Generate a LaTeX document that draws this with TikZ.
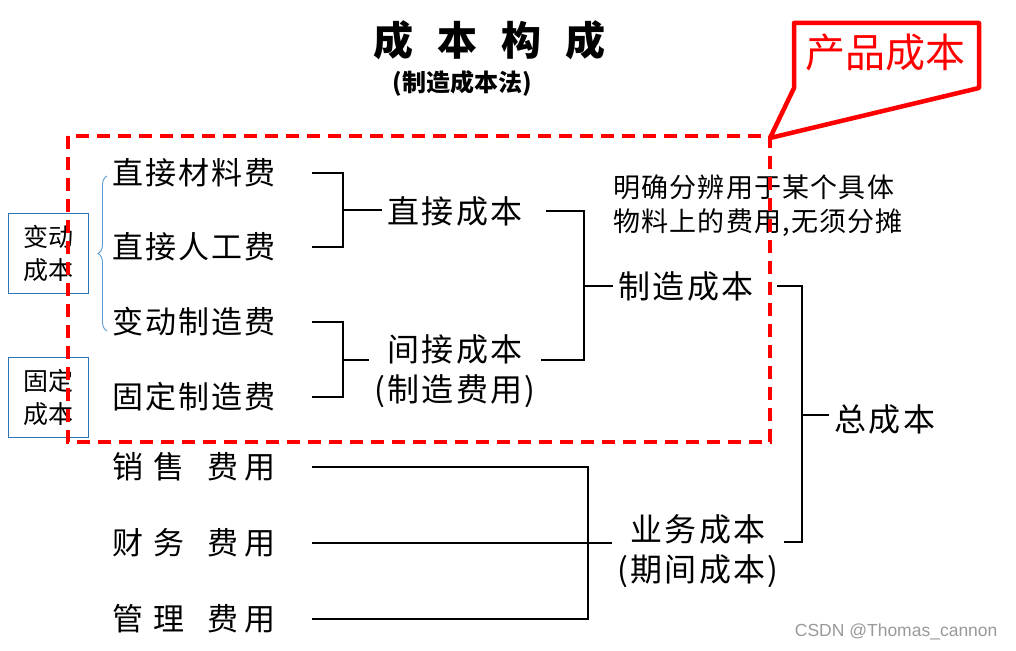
\documentclass[tikz,border=0pt]{standalone}
\usepackage{fontspec}
\newfontfamily\cjk{Noto Sans CJK SC}
\newfontfamily\cjkw[LetterSpace=6.5]{Noto Sans CJK SC}
\newfontfamily\cjkn[LetterSpace=4.5]{Noto Sans CJK SC}
\newfontfamily\wmfont{Liberation Sans}
\usetikzlibrary{decorations.pathreplacing}
\definecolor{tagblue}{RGB}{46,117,182}
\definecolor{braceblue}{RGB}{91,155,213}

\begin{document}
\begin{tikzpicture}[x=1pt,y=-1pt,
    item/.style={font=\cjkw\fontsize{31}{31}\selectfont,anchor=west,inner sep=0pt,text width=200pt,align=left},
    sum/.style={font=\cjkw\fontsize{32}{40}\selectfont,inner xsep=6pt,inner ysep=0pt,align=center},
    bar/.style={line width=2.6pt},
    tag/.style={draw=tagblue,line width=0.8pt,minimum width=80pt,minimum height=80pt,inner sep=0pt,align=center,font=\cjk\fontsize{25}{33}\selectfont},
    zone/.style={draw=red,line width=4pt,dash pattern=on 13pt off 8pt},
    callout/.style={draw=red,line width=4.5pt,line join=round}]

  \useasboundingbox (0,0) rectangle (1016,650);

  % title
  \node[font=\cjk\bfseries\fontsize{40}{40}\selectfont] (title) at (489,40) {成\hspace{24pt}本\hspace{24pt}构\hspace{24pt}成};
  \node[font=\cjk\bfseries\fontsize{24}{24}\selectfont] (sub) at (462,83) {(制造成本法)};

  % cost behaviour tags
  \node[tag] (vc) at (48,253) {变动\\成本};
  \node[tag] (fc) at (48,397) {固定\\成本};
  \draw[braceblue,line width=0.9pt,decorate,decoration={brace,amplitude=9pt}] (107,331) -- (107,176);

  % cost items
  \node[item] (clf) at (112,173) {直接材料费};
  \node[item] (rgf) at (112,247) {直接人工费};
  \node[item] (bdf) at (112,322) {变动制造费};
  \node[item] (gdf) at (112,397) {固定制造费};
  \node[item] (xsf) at (112,467) {销\hspace{10pt}售\hspace{23pt}费\hspace{6pt}用};
  \node[item] (cwf) at (112,543) {财\hspace{10pt}务\hspace{23pt}费\hspace{6pt}用};
  \node[item] (glf) at (112,619) {管\hspace{10pt}理\hspace{23pt}费\hspace{6pt}用};

  % totals
  \node[sum] (zjcb) at (455,211) {直接成本};
  \node[sum] (jjcb) at (455,371) {间接成本\\(制造费用)};
  \node[sum] (zzcb) at (686,286) {制造成本};
  \node[sum] (ywcb) at (698,551) {业务成本\\(期间成本)};
  \node[sum] (zcb) at (885,419) {总成本};

  \node[font=\cjkn\fontsize{27}{34}\selectfont,anchor=west,align=left,inner sep=0pt] (note) at (613,206) {明确分辨用于某个具体\\物料上的费用,无须分摊};

  % bracket joints
  \coordinate (j1) at (343,210);
  \coordinate (j2) at (343,360);
  \coordinate (j3) at (584,286);
  \coordinate (j4) at (802,415);
  \coordinate (j5) at (588,542);

  \draw[bar] (clf.east) -| (j1) |- (rgf.east);
  \draw[bar] (j1) -- (j1 -| zjcb.west);
  \draw[bar] (bdf.east) -| (j2) |- (gdf.east);
  \draw[bar] (j2) -- (j2 -| jjcb.west);
  \draw[bar] ([xshift=18pt]zjcb.east) -| (j3) |- (jjcb.east |- j2);
  \draw[bar] (j3) -- (zzcb.west);
  \draw[bar] ([xshift=18pt]zzcb.east) -| (j4) |- (ywcb.east |- j5);
  \draw[bar] (j4) -- (j4 -| zcb.west);
  \draw[bar] (xsf.east) -| (j5) |- (glf.east);
  \draw[bar] (cwf.east) -- (cwf.east -| ywcb.west);

  % product cost zone
  \draw[zone] (68,136) rectangle (770,442);
  \draw[callout] (794,88) -- (794,23) -- (979,23) -- (979,88) -- (770,138) -- cycle;
  \node[font=\cjk\fontsize{40}{40}\selectfont,text=red] (cp) at (885,52) {产品成本};

  \node[font=\wmfont\fontsize{17.5}{17.5}\selectfont,text=black!40,anchor=east] (wm) at (1001,632) {CSDN @Thomas\_cannon};
\end{tikzpicture}
\end{document}
